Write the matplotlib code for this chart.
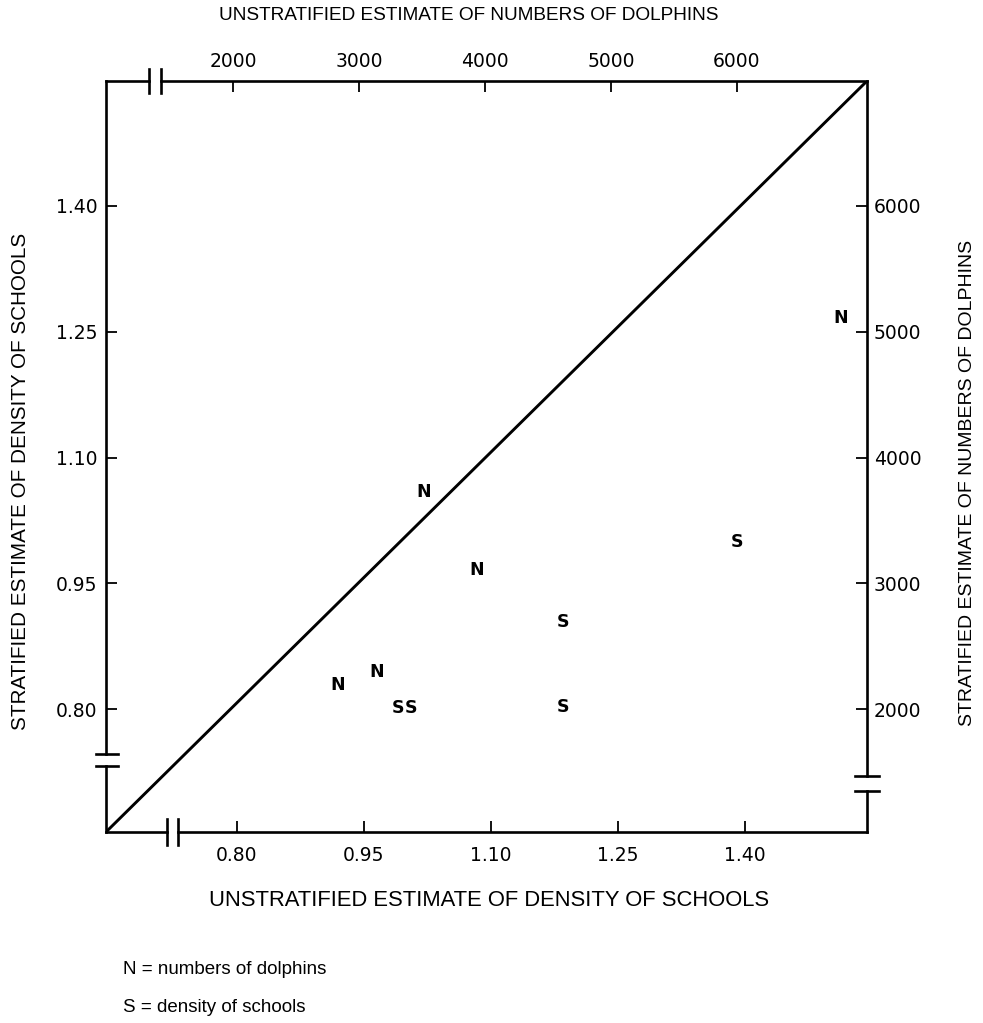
import matplotlib
matplotlib.use("Agg")
import matplotlib.pyplot as plt
import numpy as np

# ---- data ----
# N = numbers of dolphins (unstratified, stratified) in dolphins
n_unstrat = [3516, 3937, 3143, 2833, 6825]
n_strat = [3726, 3105, 2294, 2191, 5109]
# S = density of schools (unstratified, stratified)
s_unstrat = [1.390, 1.185, 1.185, 0.990, 1.005]
s_strat = [0.999, 0.904, 0.802, 0.801, 0.801]

density_ticks = [0.80, 0.95, 1.10, 1.25, 1.40]
density_labels = ["0.80", "0.95", "1.10", "1.25", "1.40"]
left_labels = ["0.80", "0.95", "1.10", "1.25", "1.40"]
dolphin_ticks = [2000, 3000, 4000, 5000, 6000]

plt.rcParams['font.family'] = ['DejaVu Sans']

W, H = 983, 1023
fig = plt.figure(figsize=(W / 100, H / 100), dpi=100)
L, R, T, B = 106, 867, 81, 832
ax = fig.add_axes([L / W, 1 - B / H, (R - L) / W, (B - T) / H])
ax.set_xlim(0.6453, 1.5441)
ax.set_ylim(0.6533, 1.5491)

# scale conversions between density axes and dolphin axes
def top_fwd(v):
    return 2000 + ((np.asarray(v) - 0.8) * 846.7 + 4) / 0.126

def top_inv(d):
    return 0.8 + ((np.asarray(d) - 2000) * 0.126 - 4) / 846.7

def right_fwd(v):
    return 2000 + (np.asarray(v) - 0.8) / 0.00015

def right_inv(d):
    return 0.8 + (np.asarray(d) - 2000) * 0.00015

lw = 1.9
for s in ax.spines.values():
    s.set_visible(False)

# frame with axis breaks (axes coordinates)
def px2ax(x, y):
    return (x - L) / (R - L), (B - y) / (B - T)

def seg(p1, p2, lwid=lw):
    a = px2ax(*p1); b = px2ax(*p2)
    ax.plot([a[0], b[0]], [a[1], b[1]], color='black', lw=lwid,
            transform=ax.transAxes, clip_on=False, solid_capstyle='projecting')

# top spine
seg((L, T), (149, T)); seg((161, T), (R, T))
seg((149, T - 12), (149, T + 12)); seg((161, T - 12), (161, T + 12))
# bottom spine
seg((L, B), (167, B)); seg((178, B), (R, B))
seg((167, B - 13), (167, B + 13)); seg((178, B - 13), (178, B + 13))
# left spine
seg((L, B), (L, 766)); seg((L, 754), (L, T))
seg((L - 10, 766), (L + 12, 766)); seg((L - 10, 754), (L + 12, 754))
# right spine
seg((R, B), (R, 791)); seg((R, 776), (R, T))
seg((R - 12, 791), (R + 12, 791)); seg((R - 12, 776), (R + 12, 776))

# 1:1 diagonal
ax.plot([0, 1], [0, 1], color='black', lw=2.1, transform=ax.transAxes)

tick_fs = 13.5
ax.set_xticks(density_ticks)
ax.set_xticklabels(density_labels)
ax.set_yticks(density_ticks)
ax.set_yticklabels(left_labels)
ax.tick_params(axis='x', direction='in', length=8, width=1.3, pad=10, labelsize=tick_fs)
ax.tick_params(axis='y', direction='in', length=8, width=1.3, pad=6, labelsize=tick_fs)

secx = ax.secondary_xaxis('top', functions=(top_fwd, top_inv))
secx.set_xticks(dolphin_ticks)
secx.tick_params(direction='in', length=8, width=1.3, pad=7, labelsize=tick_fs)
secy = ax.secondary_yaxis('right', functions=(right_fwd, right_inv))
secy.set_yticks(dolphin_ticks)
secy.tick_params(direction='in', length=8, width=1.3, pad=5, labelsize=tick_fs)
for s in list(secx.spines.values()) + list(secy.spines.values()):
    s.set_visible(False)

# points as letters
mfs = 12.5
for xd, yd in zip(n_unstrat, n_strat):
    ax.text(top_inv(xd), right_inv(yd), "N", ha='center', va='center',
            fontsize=mfs, fontweight='bold')
for xv, yv in zip(s_unstrat, s_strat):
    ax.text(xv, yv, "S", ha='center', va='center', fontsize=mfs, fontweight='bold')

fam = 'Liberation Sans'
fig.text(469 / W, 1 - 15 / H, "UNSTRATIFIED ESTIMATE OF NUMBERS OF DOLPHINS",
         ha='center', va='center', family=fam, fontsize=13.7)
fig.text(489 / W, 1 - 900 / H, "UNSTRATIFIED ESTIMATE OF DENSITY OF SCHOOLS",
         ha='center', va='center', family=fam, fontsize=15.8)
fig.text(21 / W, 1 - 481 / H, "STRATIFIED ESTIMATE OF DENSITY OF SCHOOLS",
         ha='center', va='center', rotation=90, family=fam, fontsize=14.9)
fig.text(968 / W, 1 - 483 / H, "STRATIFIED ESTIMATE OF NUMBERS OF DOLPHINS",
         ha='center', va='center', rotation=90, family=fam, fontsize=14)

leg_font = dict(family=fam, fontsize=13.5)
fig.text(123 / W, 1 - 970 / H, "N = numbers of dolphins", ha='left', va='center', **leg_font)
fig.text(123 / W, 1 - 1007 / H, "S = density of schools", ha='left', va='center', **leg_font)

fig.savefig("out.png", dpi=100)
